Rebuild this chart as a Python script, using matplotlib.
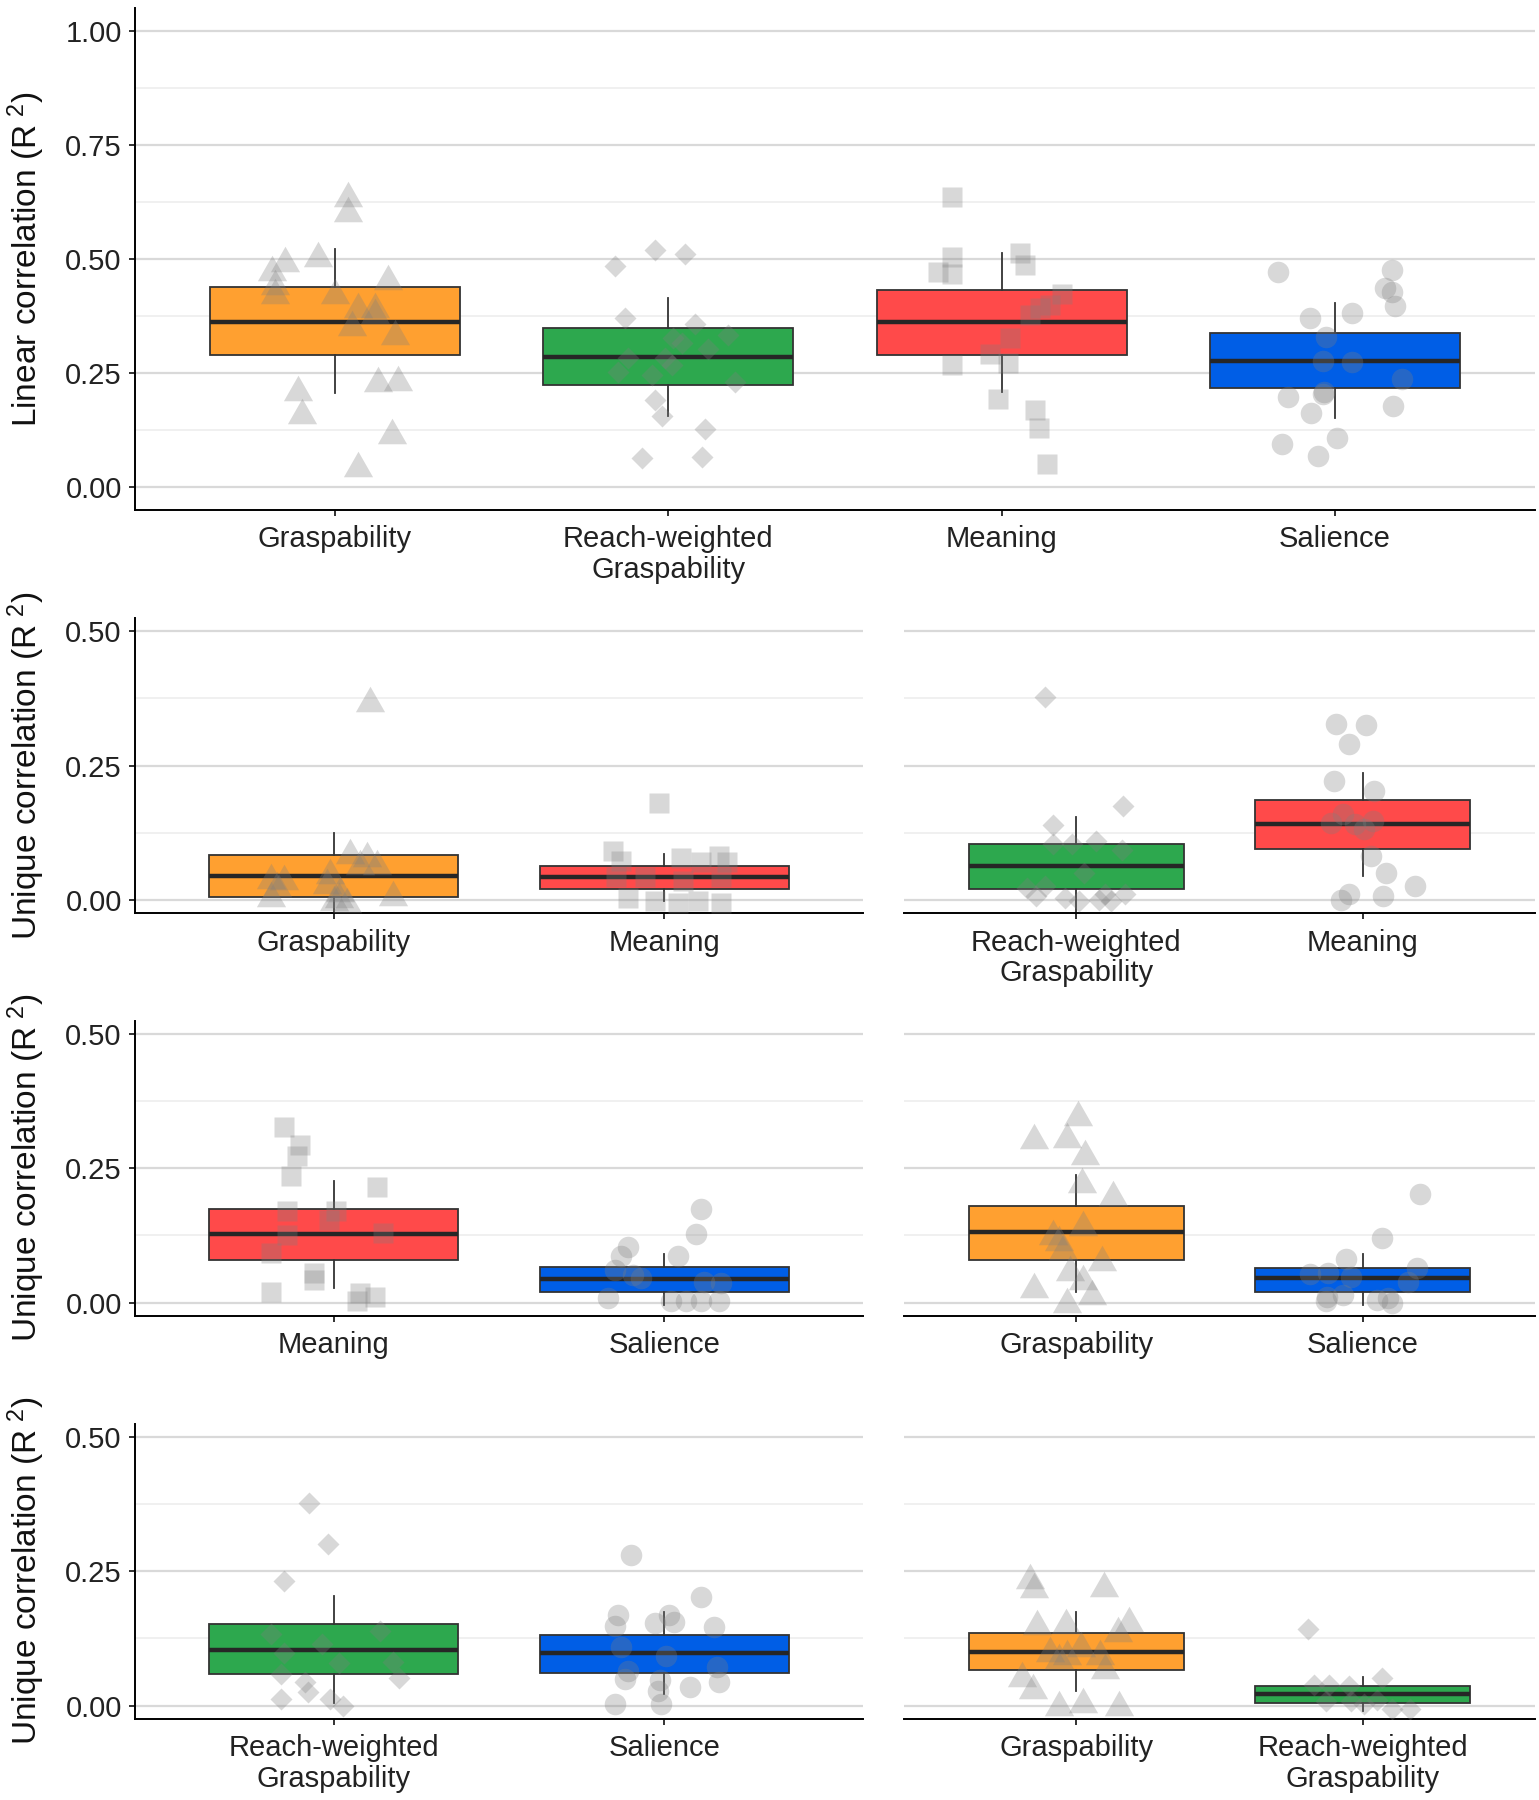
import matplotlib.pyplot as plt

plt.rcParams['font.family'] = ['Liberation Sans', 'DejaVu Sans']
plt.rcParams['mathtext.default'] = 'regular'

W, H = 1539, 1800

ORANGE = '#FFA030'
GREEN = '#2DA84E'
RED = '#FF4A4A'
BLUE = '#005EE6'

# ---- top panel: linear correlation of each predictor
LIN_LABELS = ['Graspability', 'Reach-weighted\nGraspability', 'Meaning', 'Salience']
LIN_Q1 = [0.290, 0.224, 0.290, 0.217]
LIN_MED = [0.363, 0.286, 0.361, 0.277]
LIN_Q3 = [0.438, 0.348, 0.432, 0.338]
LIN_LO = [0.207, 0.156, 0.209, 0.151]
LIN_HI = [0.521, 0.414, 0.513, 0.403]

LIN_GRASP = [0.643, 0.61, 0.51, 0.50, 0.48, 0.45, 0.43, 0.43, 0.46, 0.40,
             0.40, 0.385, 0.36, 0.34, 0.217, 0.166, 0.237, 0.24, 0.123, 0.05]
LIN_GRASP_DX = [0.04, 0.04, -0.05, -0.15, -0.19, -0.18, -0.18, 0.0, 0.16, 0.07,
                0.12, 0.12, 0.05, 0.18, -0.11, -0.10, 0.13, 0.19, 0.17, 0.07]
LIN_REACH = [0.52, 0.512, 0.485, 0.371, 0.358, 0.334, 0.327, 0.284, 0.315, 0.303,
             0.284, 0.252, 0.245, 0.23, 0.19, 0.155, 0.127, 0.065, 0.066, 0.268]
LIN_REACH_DX = [-0.04, 0.05, -0.16, -0.13, 0.08, 0.18, 0.015, -0.12, 0.04, 0.12,
                -0.01, -0.15, -0.05, 0.2, -0.04, -0.02, 0.11, -0.08, 0.1, 0.01]
LIN_MEAN = [0.635, 0.504, 0.514, 0.487, 0.471, 0.467, 0.424, 0.40, 0.377,
            0.327, 0.291, 0.272, 0.268, 0.194, 0.17, 0.129, 0.051, 0.393]
LIN_MEAN_DX = [-0.15, -0.15, 0.055, 0.07, -0.19, -0.15, 0.18, 0.145, 0.085,
               0.025, -0.034, 0.018, -0.15, -0.012, 0.1, 0.112, 0.135, 0.115]
LIN_SAL = [0.471, 0.475, 0.436, 0.428, 0.397, 0.381, 0.37, 0.33, 0.276, 0.274,
           0.237, 0.209, 0.198, 0.1625, 0.178, 0.108, 0.095, 0.069, 0.205]
LIN_SAL_DX = [-0.17, 0.17, 0.15, 0.17, 0.18, 0.05, -0.075, -0.027, -0.037, 0.052,
              0.2, -0.033, -0.14, -0.072, 0.175, 0.005, -0.16, -0.052, -0.037]

# ---- unique correlation: Graspability vs Meaning
GM_LABELS = ['Graspability', 'Meaning']
GM_Q1 = [0.006, 0.020]
GM_MED = [0.045, 0.042]
GM_Q3 = [0.083, 0.064]
GM_LO = [-0.03, -0.002]
GM_HI = [0.124, 0.086]
GM_GRASP = [0.374, 0.091, 0.085, 0.07, 0.07, 0.054, 0.045, 0.042, 0.029, 0.011,
            0.035, 0.02, 0.004, 0.001, 0.014, 0.01]
GM_GRASP_DX = [0.11, 0.05, 0.10, 0.13, 0.08, -0.01, -0.19, -0.15, -0.17, -0.19,
               -0.02, 0.02, 0.0, 0.04, 0.18, 0.015]
GM_MEAN = [0.18, 0.091, 0.073, 0.079, 0.07, 0.082, 0.07, 0.042, 0.042, 0.035,
           0.042, 0.004, -0.002, -0.005, -0.002, -0.005]
GM_MEAN_DX = [-0.015, -0.155, -0.13, 0.05, 0.11, 0.165, 0.19, -0.146, -0.06, 0.055,
              0.17, -0.11, -0.03, 0.04, 0.10, 0.17]

# ---- Reach-weighted vs Meaning
RM_LABELS = ['Reach-weighted\nGraspability', 'Meaning']
RM_Q1 = [0.020, 0.095]
RM_MED = [0.063, 0.141]
RM_Q3 = [0.105, 0.186]
RM_LO = [-0.03, 0.045]
RM_HI = [0.154, 0.237]
RM_REACH = [0.377, 0.174, 0.14, 0.104, 0.104, 0.11, 0.093, 0.051, 0.023, 0.026,
            0.007, 0.004, -0.002, 0.001, 0.011, -0.002, 0.011]
RM_REACH_DX = [-0.11, 0.164, -0.08, -0.08, -0.014, 0.07, 0.16, 0.027, -0.17, -0.11,
               -0.14, -0.04, 0.01, 0.08, 0.10, 0.12, 0.17]
RM_MEAN = [0.328, 0.325, 0.29, 0.222, 0.203, 0.16, 0.144, 0.141, 0.132, 0.147,
           0.082, 0.051, 0.027, 0.011, 0.001, 0.007]
RM_MEAN_DX = [-0.094, 0.012, -0.05, -0.10, 0.04, -0.07, -0.11, -0.026, 0.005, 0.035,
              0.027, 0.08, 0.18, -0.05, -0.075, 0.07]

# ---- Meaning vs Salience
MS_LABELS = ['Meaning', 'Salience']
MS_Q1 = [0.0795, 0.020]
MS_MED = [0.127, 0.044]
MS_Q3 = [0.1745, 0.066]
MS_LO = [0.027, -0.004]
MS_HI = [0.227, 0.091]
MS_MEAN = [0.327, 0.294, 0.272, 0.235, 0.216, 0.17, 0.17, 0.154, 0.126, 0.129,
           0.092, 0.055, 0.042, 0.02, 0.017, 0.011, 0.002]
MS_MEAN_DX = [-0.15, -0.10, -0.11, -0.13, 0.13, -0.14, 0.007, -0.013, -0.14, 0.15,
              -0.19, -0.06, -0.06, -0.19, 0.08, 0.125, 0.07]
MS_SAL = [0.174, 0.128, 0.103, 0.086, 0.086, 0.061, 0.045, 0.052, 0.039, 0.036,
          0.008, 0.002, 0.002, 0.002, 0.002]
MS_SAL_DX = [0.11, 0.094, -0.11, -0.13, 0.04, -0.15, -0.07, -0.095, 0.12, 0.17,
             -0.17, 0.02, 0.064, 0.11, 0.164]

# ---- Graspability vs Salience
GS_LABELS = ['Graspability', 'Salience']
GS_Q1 = [0.0795, 0.020]
GS_MED = [0.131, 0.045]
GS_Q3 = [0.180, 0.065]
GS_LO = [0.020, -0.004]
GS_HI = [0.238, 0.091]
GS_GRASP = [0.353, 0.31, 0.312, 0.281, 0.229, 0.204, 0.148, 0.132, 0.12, 0.104,
            0.083, 0.064, 0.048, 0.033, 0.02, 0.005]
GS_GRASP_DX = [0.006, -0.146, -0.03, 0.03, 0.02, 0.13, 0.024, -0.08, -0.06, -0.044,
               0.09, -0.02, 0.024, -0.146, 0.055, -0.03]
GS_SAL = [0.202, 0.12, 0.081, 0.064, 0.053, 0.055, 0.048, 0.039, 0.011, 0.014,
          0.002, 0.005, 0.008, -0.001]
GS_SAL_DX = [0.2, 0.065, -0.06, 0.19, -0.185, -0.12, -0.04, 0.156, -0.125, -0.07,
             -0.13, 0.05, 0.088, 0.10]

# ---- Reach-weighted vs Salience
RS_LABELS = ['Reach-weighted\nGraspability', 'Salience']
RS_Q1 = [0.058, 0.061]
RS_MED = [0.104, 0.098]
RS_Q3 = [0.151, 0.132]
RS_LO = [0.004, 0.022]
RS_HI = [0.204, 0.174]
RS_REACH = [0.377, 0.300, 0.232, 0.134, 0.139, 0.115, 0.097, 0.081, 0.079, 0.059,
            0.044, 0.051, 0.025, 0.012, 0.012, 0.0]
RS_REACH_DX = [-0.074, -0.018, -0.15, -0.19, 0.14, -0.035, -0.15, 0.18, 0.015, -0.16,
               -0.085, 0.197, -0.077, -0.16, -0.01, 0.03]
RS_SAL = [0.28, 0.202, 0.168, 0.168, 0.149, 0.153, 0.156, 0.146, 0.109, 0.093,
          0.065, 0.072, 0.05, 0.047, 0.044, 0.034, 0.028, 0.002, 0.003]
RS_SAL_DX = [-0.10, 0.11, -0.14, 0.013, -0.15, -0.03, 0.03, 0.15, -0.13, 0.005,
             -0.11, 0.16, -0.12, -0.012, 0.164, 0.077, -0.02, -0.15, -0.01]

# ---- Graspability vs Reach-weighted
GR_LABELS = ['Graspability', 'Reach-weighted\nGraspability']
GR_Q1 = [0.067, 0.005]
GR_MED = [0.100, 0.022]
GR_Q3 = [0.135, 0.037]
GR_LO = [0.028, -0.011]
GR_HI = [0.175, 0.054]
GR_GRASP = [0.242, 0.224, 0.227, 0.161, 0.155, 0.158, 0.142, 0.114, 0.105, 0.092,
            0.099, 0.099, 0.074, 0.058, 0.036, 0.011, 0.005, 0.005]
GR_GRASP_DX = [-0.16, -0.146, 0.097, 0.184, -0.135, -0.036, 0.146, 0.017, -0.09, -0.06,
               0.085, -0.03, 0.10, -0.19, -0.15, 0.024, -0.06, 0.15]
GR_REACH = [0.142, 0.039, 0.039, 0.036, 0.052, 0.008, 0.008, 0.002, 0.011, -0.007,
            -0.007]
GR_REACH_DX = [-0.19, -0.17, -0.117, -0.05, 0.065, -0.13, -0.04, 0.005, 0.05, 0.10,
               0.164]

TRI = [(-1, -0.875), (1, -0.875), (0, 0.875)]
MARK = {'tri': (TRI, 21), 'dia': ('D', 11), 'sq': ('s', 15), 'circ': ('o', 15.5)}


def rect(x0, y0, x1, y1):
    return [x0 / W, 1 - y1 / H, (x1 - x0) / W, (y1 - y0) / H]


def draw_panel(ax, labels, q1, med, q3, lo, hi, colors, groups, top, show_y):
    stats = []
    for i in range(len(labels)):
        stats.append(dict(q1=q1[i], med=med[i], q3=q3[i], whislo=lo[i],
                          whishi=hi[i], fliers=[]))
    pos = list(range(1, len(labels) + 1))
    res = ax.bxp(stats, positions=pos, widths=0.75, showcaps=False,
                 showfliers=False, patch_artist=True,
                 boxprops=dict(edgecolor='#333333', linewidth=1.3),
                 medianprops=dict(color='#262626', linewidth=3.2),
                 whiskerprops=dict(color='#333333', linewidth=1.3))
    for patch, c in zip(res['boxes'], colors):
        patch.set_facecolor(c)
    for i, (ys, dxs, kind) in enumerate(groups):
        marker, ms = MARK[kind]
        ax.plot([pos[i] + d for d in dxs], ys, ls='none', marker=marker,
                ms=ms, color='#7f7f7f', alpha=0.3, mec='none', zorder=4)

    step = 0.25
    ax.set_ylim(-0.05 * top, 1.05 * top)
    ax.set_xlim(0.4, len(labels) + 0.6)
    ax.set_yticks([k * step for k in range(int(top / step) + 1)])
    ax.set_yticks([k * step + step / 2 for k in range(int(top / step))], minor=True)
    ax.set_xticks(pos)
    ax.set_xticklabels(labels, linespacing=1.12)
    ax.grid(axis='y', which='major', color='#d9d9d9', lw=1.6)
    ax.grid(axis='y', which='minor', color='#efefef', lw=1.3)
    ax.set_axisbelow(True)
    for s in ['top', 'right']:
        ax.spines[s].set_visible(False)
    ax.spines['bottom'].set_linewidth(1.4)
    ax.spines['left'].set_linewidth(1.4)
    ax.tick_params(axis='both', which='major', labelsize=21, length=4.5, width=1.3,
                   pad=5, colors='#222222')
    ax.tick_params(axis='x', which='major', pad=6.5)
    ax.tick_params(axis='y', which='minor', length=0)
    if show_y:
        ax.set_yticklabels(['%.2f' % t for t in ax.get_yticks()])
    else:
        ax.spines['left'].set_visible(False)
        ax.tick_params(axis='y', which='both', length=0, labelleft=False)


fig = plt.figure(figsize=(W / 100, H / 100), dpi=100)

ax = fig.add_axes(rect(135, 8, 1535, 510))
draw_panel(ax, LIN_LABELS, LIN_Q1, LIN_MED, LIN_Q3, LIN_LO, LIN_HI,
           [ORANGE, GREEN, RED, BLUE],
           [(LIN_GRASP, LIN_GRASP_DX, 'tri'), (LIN_REACH, LIN_REACH_DX, 'dia'),
            (LIN_MEAN, LIN_MEAN_DX, 'sq'), (LIN_SAL, LIN_SAL_DX, 'circ')],
           1.0, True)
fig.text(26 / W, 1 - 259 / H, 'Linear correlation (R$^{\\ 2}$)', rotation=90,
         ha='center', va='center', fontsize=24, color='#111111')

rows = [(617.6, 913.5), (1020.6, 1316), (1423.6, 1719)]
left_col = (135, 863)
right_col = (904, 1535)

panels = [
    (0, left_col, True, GM_LABELS, GM_Q1, GM_MED, GM_Q3, GM_LO, GM_HI, [ORANGE, RED],
     [(GM_GRASP, GM_GRASP_DX, 'tri'), (GM_MEAN, GM_MEAN_DX, 'sq')]),
    (0, right_col, False, RM_LABELS, RM_Q1, RM_MED, RM_Q3, RM_LO, RM_HI, [GREEN, RED],
     [(RM_REACH, RM_REACH_DX, 'dia'), (RM_MEAN, RM_MEAN_DX, 'circ')]),
    (1, left_col, True, MS_LABELS, MS_Q1, MS_MED, MS_Q3, MS_LO, MS_HI, [RED, BLUE],
     [(MS_MEAN, MS_MEAN_DX, 'sq'), (MS_SAL, MS_SAL_DX, 'circ')]),
    (1, right_col, False, GS_LABELS, GS_Q1, GS_MED, GS_Q3, GS_LO, GS_HI, [ORANGE, BLUE],
     [(GS_GRASP, GS_GRASP_DX, 'tri'), (GS_SAL, GS_SAL_DX, 'circ')]),
    (2, left_col, True, RS_LABELS, RS_Q1, RS_MED, RS_Q3, RS_LO, RS_HI, [GREEN, BLUE],
     [(RS_REACH, RS_REACH_DX, 'dia'), (RS_SAL, RS_SAL_DX, 'circ')]),
    (2, right_col, False, GR_LABELS, GR_Q1, GR_MED, GR_Q3, GR_LO, GR_HI, [ORANGE, GREEN],
     [(GR_GRASP, GR_GRASP_DX, 'tri'), (GR_REACH, GR_REACH_DX, 'dia')]),
]

for r, col, show_y, labels, q1, med, q3, lo, hi, colors, groups in panels:
    y0, y1 = rows[r]
    ax = fig.add_axes(rect(col[0], y0, col[1], y1))
    draw_panel(ax, labels, q1, med, q3, lo, hi, colors, groups, 0.5, show_y)
    if show_y:
        fig.text(26 / W, 1 - (y0 + y1) / 2 / H, 'Unique correlation (R$^{\\ 2}$)',
                 rotation=90, ha='center', va='center', fontsize=24, color='#111111')

fig.savefig('out.png', dpi=100)
